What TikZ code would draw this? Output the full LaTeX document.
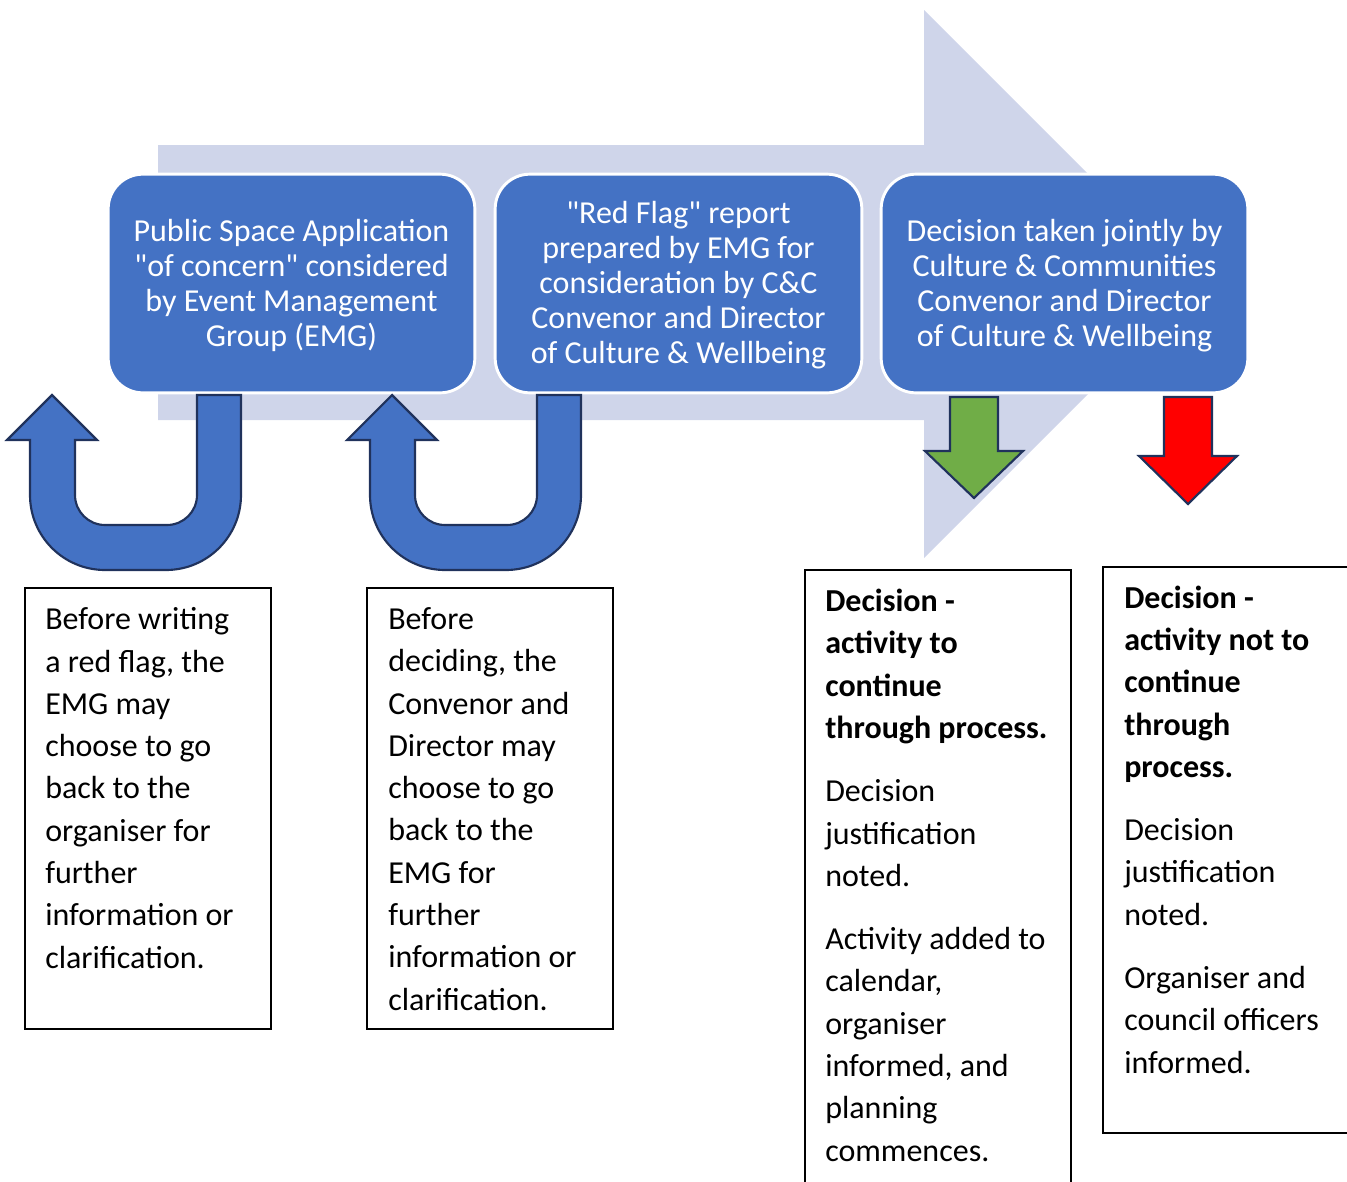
\documentclass[tikz,border=0pt]{standalone}
\usepackage{fontspec}
\setmainfont{Carlito}
\definecolor{lav}{RGB}{207,213,234}
\definecolor{boxblue}{RGB}{68,114,196}
\definecolor{navy}{RGB}{32,50,92}
\definecolor{okgreen}{RGB}{112,173,71}
\definecolor{stopred}{RGB}{255,0,0}
\newcommand{\sq}{\XeTeXglyph\XeTeXcharglyph"22\relax}
\tikzset{
  stage/.style={draw=white, line width=2.2pt, fill=boxblue, rounded corners=26pt,
    minimum width=275pt, minimum height=164pt, inner sep=0pt, text=white, align=center,
    font=\fontsize{24}{26.25}\selectfont},
  notebox/.style={draw=black, line width=0.9pt, fill=white, inner sep=0pt},
  notetext/.style={inner sep=0pt, align=left, font=\fontsize{24}{31.7}\selectfont},
  uarrow/.style={draw=navy, line width=1.6pt, fill=boxblue, line join=miter},
  darrow/.style={draw=navy, line width=1.6pt, line join=miter}
}
\begin{document}
\begin{tikzpicture}[x=0.75pt,y=-0.75pt]
\useasboundingbox (0,0) rectangle (1347,1182);
\clip (0,0) rectangle (1347,1182);
% big background arrow
\fill[lav] (158,145) -- (924,145) -- (924,10) -- (1198,284) -- (924,558) -- (924,420) -- (158,420) -- cycle;
% stage boxes
\node[stage] (b1) at (291.5,283.5) {};
\node[stage] (b2) at (678.5,283.5) {};
\node[stage] (b3) at (1064.5,283.5) {};
\node[stage, draw=none, fill=none] (l1) at (291.5,285.5) {Public Space Application\\\sq of concern\sq{} considered\\by Event Management\\Group (EMG)};
\node[stage, draw=none, fill=none] (l2) at (678.5,285.5) {\sq Red Flag\sq{} report\\prepared by EMG for\\consideration by C\&C\\Convenor and Director\\of Culture \& Wellbeing};
\node[stage, draw=none, fill=none] (l3) at (1064.5,285.5) {Decision taken jointly by\\Culture \& Communities\\Convenor and Director\\of Culture \& Wellbeing};
% U-turn arrows
\foreach \dx in {0,340} {
\begin{scope}[xshift=\dx*0.75pt]
\draw[uarrow] (52,395) -- (97,440) -- (75,440) -- (75,495)
  arc[start angle=180,end angle=90,radius=30] -- (167,525)
  arc[start angle=90,end angle=0,radius=30] -- (197,395) -- (241,395) -- (241,495)
  arc[start angle=0,end angle=90,radius=75] -- (105,570)
  arc[start angle=90,end angle=180,radius=75] -- (30,440) -- (7,440) -- cycle;
\end{scope}
}
% down arrows
\draw[darrow, fill=okgreen] (950,397) -- (998,397) -- (998,451) -- (1023,451) -- (974,498) -- (925,451) -- (950,451) -- cycle;
\draw[darrow, fill=stopred] (1164,397) -- (1212,397) -- (1212,456) -- (1237,456) -- (1188,504) -- (1139,456) -- (1164,456) -- cycle;
% note boxes
\node[notebox, minimum width=184.5pt, minimum height=330.75pt] (n1) at (148,808.5) {};
\node[notebox, minimum width=184.5pt, minimum height=330.75pt] (n2) at (490,808.5) {};
\node[notebox, minimum width=199.5pt, minimum height=460.5pt] (n3) at (938,877) {};
\node[notebox, minimum width=200pt, minimum height=424.5pt] (n4) at (1236.3,850) {};
% texts (anchored at the baseline of their last line)
\node[notetext, anchor=base west] (t1) at (45,968) {Before writing\\a red flag, the\\EMG may\\choose to go\\back to the\\organiser for\\further\\information or\\clarification.};
\node[notetext, anchor=base west] (t2) at (388,1010) {Before\\deciding, the\\Convenor and\\Director may\\choose to go\\back to the\\EMG for\\further\\information or\\clarification.};
\node[notetext, anchor=base west] (t3) at (825,1161) {\textbf{Decision -}\\\textbf{activity to}\\\textbf{continue}\\\textbf{through process.}\\[15.8pt]Decision\\justification\\noted.\\[15.8pt]Activity added to\\calendar,\\organiser\\informed, and\\planning\\commences.};
\node[notetext, anchor=base west] (t4) at (1124,1073) {\textbf{Decision -}\\\textbf{activity not to}\\\textbf{continue}\\\textbf{through}\\\textbf{process.}\\[15.8pt]Decision\\justification\\noted.\\[15.8pt]Organiser and\\council officers\\informed.};
\end{tikzpicture}
\end{document}
